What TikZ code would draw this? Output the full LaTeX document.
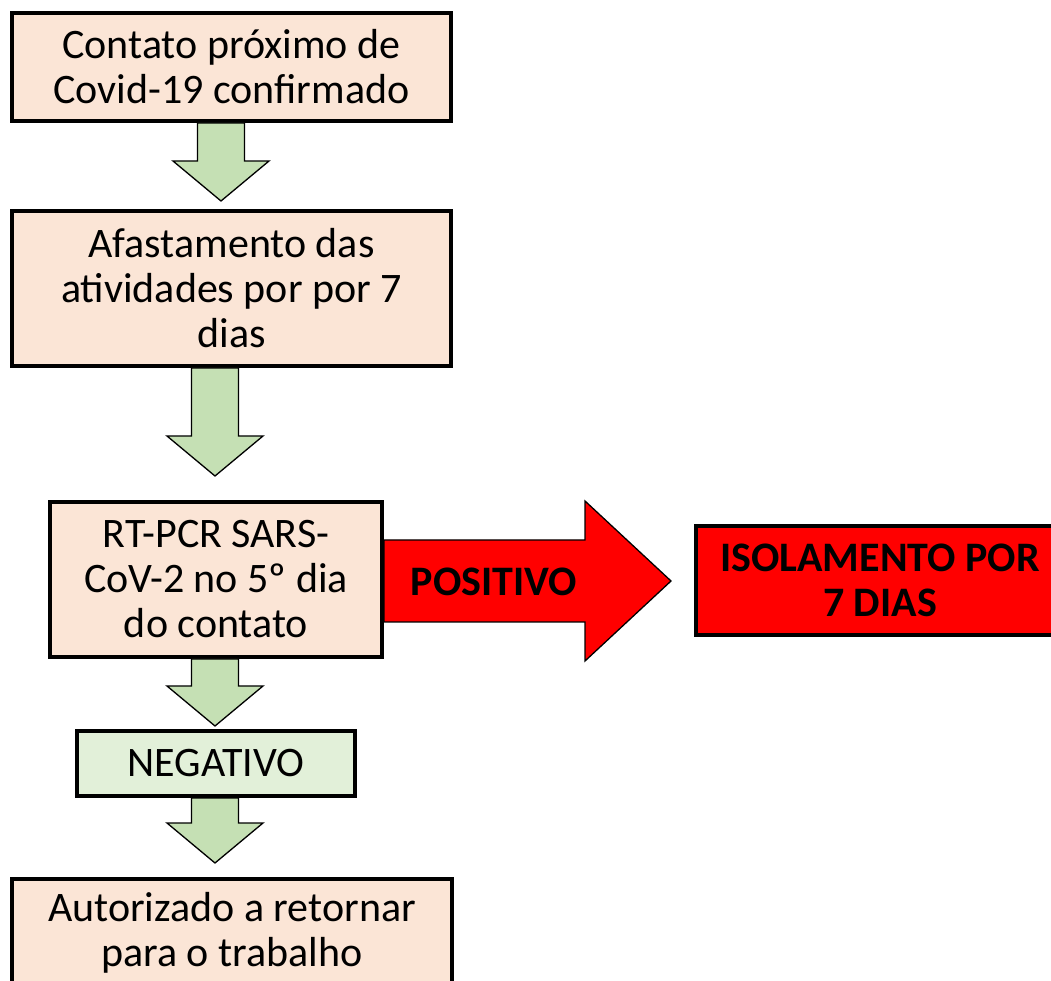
\documentclass[tikz,border=0pt]{standalone}
\usepackage{fontspec}
\setmainfont{Carlito}
\usetikzlibrary{calc}

\definecolor{peach}{HTML}{FBE5D6}
\definecolor{lightgreen}{HTML}{E2F0D9}
\definecolor{arrowgreen}{HTML}{C5E0B4}

\tikzset{
    stepbox/.style={draw=black, line width=4pt, fill=peach, align=center,
        font=\fontsize{42}{45}\selectfont, inner sep=0pt},
    greenarrow/.style={draw=black, line width=1.3pt, fill=arrowgreen, line join=miter},
    redarrow/.style={draw=black, line width=1.3pt, fill=red, line join=miter}
}

% block arrow pointing down: x of axis, upper node, lower node, gap above lower node
\newcommand{\blockdown}[4]{%
    \draw[greenarrow] let \p1=(#2.south), \p2=(#3.north) in
        (#1-23.5,\y1) -- (#1-23.5,\y2+#4+40) -- (#1-48,\y2+#4+40) -- (#1,\y2+#4)
        -- (#1+48,\y2+#4+40) -- (#1+23.5,\y2+#4+40) -- (#1+23.5,\y1) -- cycle;}

\begin{document}
\begin{tikzpicture}[x=1pt, y=1pt]
        \useasboundingbox (0,0) rectangle (1051,980);

        % Boxes of the flow
        \node[stepbox, minimum width=439, minimum height=108] (contato) at (231.5,913)
            {Contato próximo de\\Covid-19 confirmado};
        \node[stepbox, minimum width=439, minimum height=155] (afast) at (231.5,691.5)
            {Afastamento das\\atividades por por 7\\dias};
        \node[stepbox, minimum width=332, minimum height=155] (rtpcr) at (216,400.5)
            {RT-PCR SARS-\\CoV-2 no 5º dia\\do contato};
        \node[stepbox, fill=lightgreen, minimum width=278, minimum height=65] (negativo) at (216,216.5)
            {NEGATIVO};
        \node[stepbox, minimum width=440, minimum height=108] (retorno) at (232,47)
            {Autorizado a retornar\\para o trabalho};
        \node[stepbox, fill=red, font=\fontsize{42}{45}\selectfont\bfseries,
            minimum width=368, minimum height=109] (isolamento) at (880,399.5)
            {ISOLAMENTO POR\\7 DIAS};

        % Green arrows down
        \blockdown{221}{contato}{afast}{8}
        \blockdown{215}{afast}{rtpcr}{24}
        \blockdown{215}{rtpcr}{negativo}{3}
        \blockdown{215}{negativo}{retorno}{14}

        % Red arrow to the right
        \draw[redarrow] let \p1=(rtpcr.east), \p2=(isolamento.west) in
            (\x1,399+41) -- (585,399+41) -- (585,399+80) -- (\x2-23,399)
            -- (585,399-80) -- (585,399-41) -- (\x1,399-41) -- cycle;
        \node[font=\fontsize{42}{45}\selectfont\bfseries] (positivo) at (494,398) {POSITIVO};
\end{tikzpicture}
\end{document}
